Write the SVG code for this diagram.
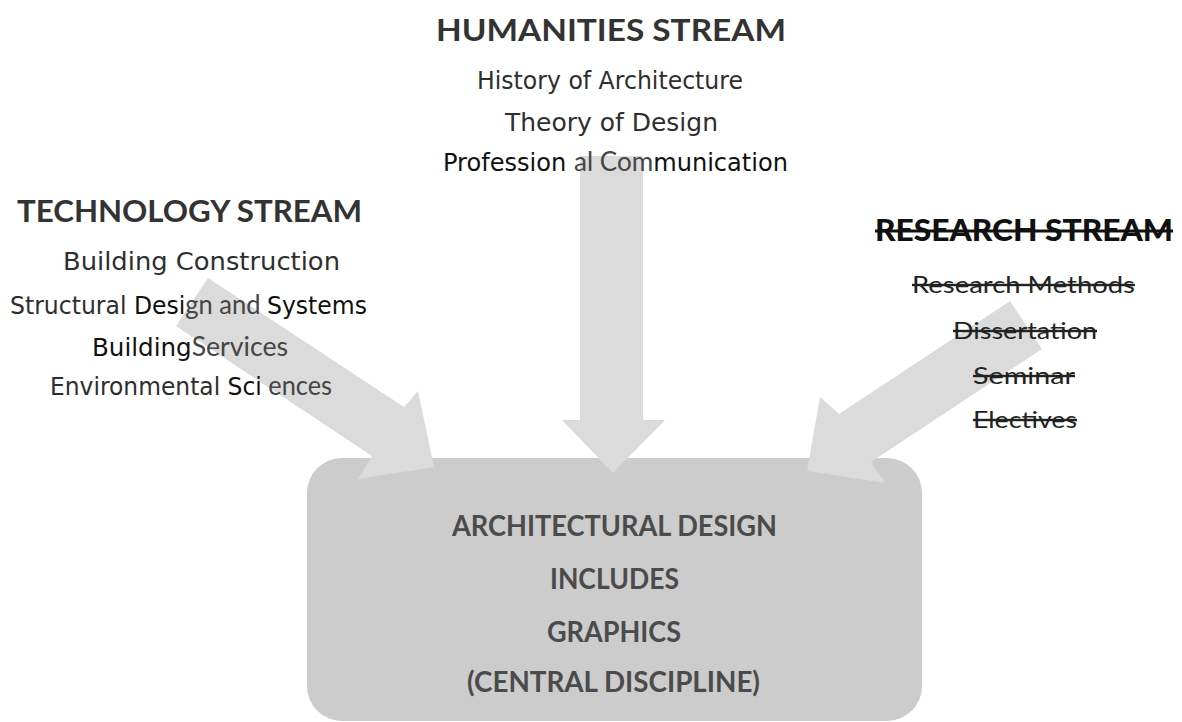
<svg xmlns="http://www.w3.org/2000/svg" width="1182" height="722" viewBox="0 0 1182 722">
<style>
.bg{fill:#ffffff}
.arrow{fill:#dbdbdb}
.box{fill:#cccccc}
.title{font-family:Lato,"Open Sans",sans-serif;font-weight:700;font-size:31px;fill:#333333}
.item{font-family:"DejaVu Sans",sans-serif;font-size:24px;fill:#2e2e2e}
.blk{fill:#111111}
.alt{font-family:Lato,"Open Sans",sans-serif;font-size:26px;fill:#454545}
.rtitle{font-family:Lato,"Open Sans",sans-serif;font-weight:900;font-size:30px;fill:#111111;text-decoration:line-through}
.res{font-family:Lato,"Open Sans",sans-serif;font-size:24px;fill:#222222;text-decoration:line-through}
.core{font-family:Lato,"Open Sans",sans-serif;font-weight:700;font-size:29px;fill:#4b4b4b}
</style>
<rect class="bg" x="0" y="0" width="1182" height="722"/>
<g id="central">
<rect class="box" x="307" y="458" width="615" height="263" rx="35" ry="35"/>
</g>
<g id="connectors">
<polygon class="arrow" points="580,156 643,156 643,420 665,420 613,473 562,420 580,420"/>
<polygon class="arrow" points="208,278 404,407 418,391 434,467 358,479 372,456 176,326"/>
<polygon class="arrow" points="1010,301 839,414 820,397 807,471 885,483 871,462 1042,349"/>
</g>
<g id="central-text">
<text class="core" x="452" y="536" textLength="325" lengthAdjust="spacingAndGlyphs">ARCHITECTURAL DESIGN</text>
<text class="core" x="550" y="589" textLength="129" lengthAdjust="spacingAndGlyphs">INCLUDES</text>
<text class="core" x="547" y="642" textLength="134" lengthAdjust="spacingAndGlyphs">GRAPHICS</text>
<text class="core" x="467" y="692" textLength="293" lengthAdjust="spacingAndGlyphs">(CENTRAL DISCIPLINE)</text>
</g>
<g id="humanities">
<text class="title" x="436" y="41" textLength="350" lengthAdjust="spacingAndGlyphs">HUMANITIES STREAM</text>
<text class="item" x="477" y="89" textLength="266" lengthAdjust="spacingAndGlyphs">History of Architecture</text>
<text class="item" x="505" y="131" textLength="213" lengthAdjust="spacingAndGlyphs">Theory of Design</text>
<text class="item blk" x="443" y="171" textLength="345" lengthAdjust="spacingAndGlyphs">Profession <tspan class="alt">al Com</tspan>munication</text>
</g>
<g id="technology">
<text class="title" x="17" y="222" textLength="345" lengthAdjust="spacingAndGlyphs">TECHNOLOGY STREAM</text>
<text class="item" x="63" y="270" textLength="277" lengthAdjust="spacingAndGlyphs">Building Construction</text>
<text class="item" x="10" y="314" textLength="357" lengthAdjust="spacingAndGlyphs">Structural <tspan class="blk">Desi</tspan><tspan class="alt">gn and </tspan><tspan class="blk">Systems</tspan></text>
<text class="item" x="92" y="356" textLength="196" lengthAdjust="spacingAndGlyphs"><tspan class="blk">Building</tspan><tspan class="alt">Services</tspan></text>
<text class="item" x="50" y="395" textLength="282" lengthAdjust="spacingAndGlyphs">Environmental <tspan class="blk">Sci</tspan><tspan class="alt"> ences</tspan></text>
</g>
<g id="research">
<text class="rtitle" x="875" y="241" textLength="298" lengthAdjust="spacingAndGlyphs">RESEARCH STREAM</text>
<text class="res" x="912" y="293" textLength="223" lengthAdjust="spacingAndGlyphs">Research Methods</text>
<text class="res" x="953" y="339" textLength="144" lengthAdjust="spacingAndGlyphs">Dissertation</text>
<text class="res" x="973" y="384" textLength="102" lengthAdjust="spacingAndGlyphs">Seminar</text>
<text class="res" x="973" y="428" textLength="104" lengthAdjust="spacingAndGlyphs">Electives</text>
</g>
</svg>
